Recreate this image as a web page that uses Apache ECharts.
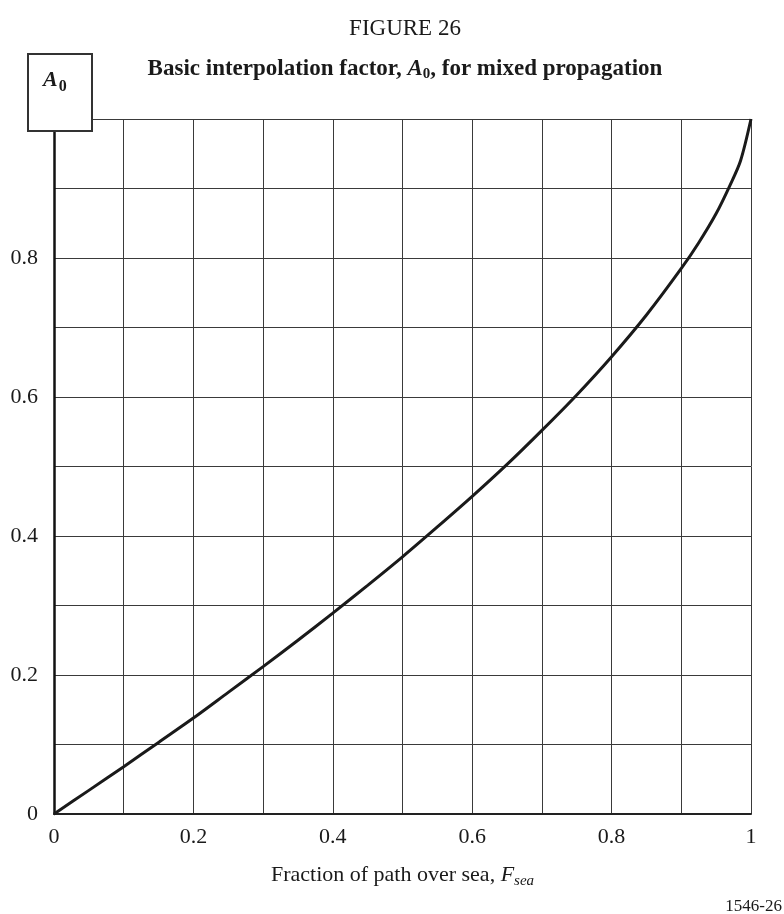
<!DOCTYPE html>
<html>
<head>
<meta charset="utf-8">
<script src="https://cdn.jsdelivr.net/npm/echarts@6/dist/echarts.min.js"></script>
<style>
html,body{margin:0;padding:0;background:#fff;}
#chart{width:784px;height:914px;}
</style>
</head>
<body>
<div id="chart"></div>
<script>
// Fraction of path over sea (x) and A0 (y)
var fSea = [0, 0.05, 0.1, 0.15, 0.2, 0.25, 0.3, 0.35, 0.4, 0.45, 0.5, 0.55, 0.6, 0.65, 0.7, 0.75, 0.8, 0.85, 0.9, 0.925, 0.95, 0.97, 0.985, 1];
var a0 = [0, 0.034, 0.068, 0.103, 0.138, 0.175, 0.212, 0.25, 0.289, 0.329, 0.37, 0.413, 0.457, 0.503, 0.552, 0.603, 0.658, 0.718, 0.785, 0.822, 0.864, 0.905, 0.94, 1];
var xTickLabels = ['0', '0.2', '0.4', '0.6', '0.8', '1'];
var yTickLabels = ['0', '0.2', '0.4', '0.6', '0.8'];

var serif = '"Liberation Serif", "DejaVu Serif", serif';
var chart = echarts.init(document.getElementById('chart'), null, {renderer: 'canvas'});

function fmt(v, list) {
  var s = String(Math.round(v * 10) / 10);
  return list.indexOf(s) >= 0 ? s : '';
}

var data = fSea.map(function (x, i) { return [x, a0[i]]; });

chart.setOption({
  animation: false,
  backgroundColor: '#fff',
  title: [
    {
      text: 'FIGURE 26',
      left: 400, top: 12, textAlign: 'center',
      textStyle: {fontFamily: serif, fontSize: 23, fontWeight: 'normal', color: '#1a1a1a'}
    },
    {
      text: 'Basic interpolation factor, {i|A}{s|0}, for mixed propagation',
      left: 400, top: 52, textAlign: 'center',
      textStyle: {
        fontFamily: serif, fontSize: 23, fontWeight: 'bold', color: '#1a1a1a',
        rich: {
          i: {fontFamily: serif, fontSize: 23, fontWeight: 'bold', fontStyle: 'italic', color: '#1a1a1a'},
          s: {fontFamily: serif, fontSize: 15, fontWeight: 'bold', color: '#1a1a1a', padding: [10, 0, 0, 0]}
        }
      }
    }
  ],
  grid: {left: 54, right: 33, top: 119, bottom: 100, containLabel: false},
  xAxis: {
    type: 'value', min: 0, max: 1, interval: 0.1,
    name: 'Fraction of path over sea, {i|F}{s|sea}',
    nameLocation: 'middle', nameGap: 48,
    nameTextStyle: {
      fontFamily: serif, fontSize: 22, color: '#1a1a1a',
      rich: {
        i: {fontFamily: serif, fontSize: 22, fontStyle: 'italic', color: '#1a1a1a'},
        s: {fontFamily: serif, fontSize: 15, fontStyle: 'italic', color: '#1a1a1a', padding: [12, 0, 0, 0]}
      }
    },
    axisLine: {show: true, lineStyle: {color: '#222', width: 2}},
    axisTick: {show: false},
    axisLabel: {
      fontFamily: serif, fontSize: 22, color: '#1a1a1a', margin: 12,
      formatter: function (v) { return fmt(v, xTickLabels); }
    },
    splitLine: {show: true, lineStyle: {color: '#3a3a3a', width: 1}}
  },
  yAxis: {
    type: 'value', min: 0, max: 1, interval: 0.1,
    axisLine: {show: true, lineStyle: {color: '#111', width: 2.5}},
    axisTick: {show: false},
    axisLabel: {
      fontFamily: serif, fontSize: 22, color: '#1a1a1a', margin: 16,
      formatter: function (v) { return fmt(v, yTickLabels); }
    },
    splitLine: {show: true, lineStyle: {color: '#3a3a3a', width: 1}}
  },
  graphic: [
    {
      type: 'rect', left: 27, top: 53, z: 100,
      shape: {width: 64, height: 77},
      style: {fill: '#fff', stroke: '#333', lineWidth: 2}
    },
    {
      type: 'text', left: 43, top: 69, z: 101,
      style: {
        text: '{i|A}{s|0}',
        rich: {
          i: {fontFamily: serif, fontSize: 22, fontWeight: 'bold', fontStyle: 'italic', fill: '#1a1a1a'},
          s: {fontFamily: serif, fontSize: 16, fontWeight: 'bold', fill: '#1a1a1a', padding: [14, 0, 0, 1]}
        }
      }
    },
    {
      type: 'text', right: 2, top: 898, z: 101,
      style: {text: '1546-26', fontFamily: serif, fontSize: 17, fill: '#1a1a1a'}
    }
  ],
  series: [{
    type: 'line',
    data: data,
    smooth: 0.3,
    showSymbol: false,
    lineStyle: {color: '#1a1a1a', width: 3},
    z: 5
  }]
});
</script>
</body>
</html>
